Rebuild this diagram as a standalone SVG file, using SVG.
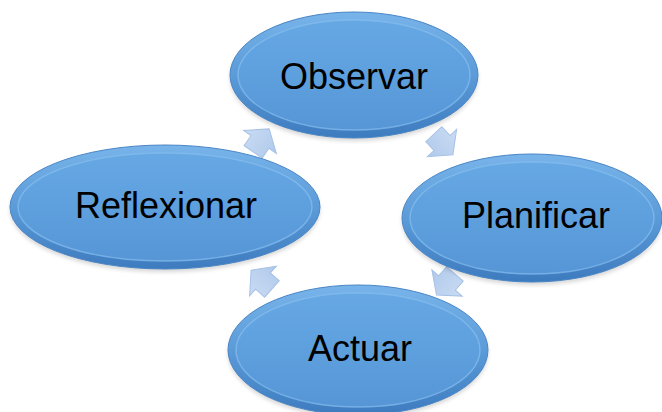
<svg xmlns="http://www.w3.org/2000/svg" width="662" height="412" viewBox="0 0 662 412">
<defs>
<linearGradient id="outerG" x1="0" y1="0" x2="0" y2="1">
<stop offset="0" stop-color="#78b4ea"/>
<stop offset="0.5" stop-color="#5b9bd8"/>
<stop offset="1" stop-color="#3d7bbf"/>
</linearGradient>
<linearGradient id="innerG" x1="0" y1="0" x2="0" y2="1">
<stop offset="0" stop-color="#66a8e4"/>
<stop offset="1" stop-color="#5696d7"/>
</linearGradient>
<linearGradient id="arrowG" x1="0" y1="0" x2="0" y2="1">
<stop offset="0" stop-color="#cadcf3"/>
<stop offset="1" stop-color="#b0c9eb"/>
</linearGradient>
<filter id="sh" x="-10%" y="-10%" width="120%" height="130%">
<feGaussianBlur stdDeviation="2"/>
</filter>
<path id="arr" d="M -12,-11 L 0,-11 L 0,-20 L 16,0 L 0,20 L 0,11 L -12,11 Z"/>
</defs>
<style>
.shadow{fill:#000;opacity:0.16;filter:url(#sh)}
.outer{fill:url(#outerG);stroke:#4a86c6;stroke-width:1}
.inner{fill:url(#innerG);stroke:#86bdee;stroke-width:1.5;stroke-opacity:0.7}
.lbl{font-family:"Liberation Sans",Arial,sans-serif;font-size:36px;fill:#000;text-anchor:middle}
.arrow{fill:url(#arrowG);stroke:#a6c1e5;stroke-width:1;stroke-linejoin:miter}
</style>
<rect width="662" height="412" fill="#fff"/>
<g id="connectors">
<use href="#arr" class="arrow" transform="translate(442,143) rotate(47)"/>
<use href="#arr" class="arrow" transform="translate(447,283) rotate(131)"/>
<use href="#arr" class="arrow" transform="translate(263,281) rotate(-138)"/>
<use href="#arr" class="arrow" transform="translate(260,142) rotate(-55)"/>
</g>
<g id="observar">
<ellipse class="shadow" cx="354" cy="78" rx="124" ry="63"/>
<ellipse class="outer" cx="354" cy="75" rx="124" ry="63"/>
<ellipse class="inner" cx="354" cy="75" rx="116" ry="55"/>
<text class="lbl" x="354" y="89">Observar</text>
</g>
<g id="planificar">
<ellipse class="shadow" cx="532" cy="221" rx="130" ry="64"/>
<ellipse class="outer" cx="532" cy="218" rx="130" ry="64"/>
<ellipse class="inner" cx="532" cy="218" rx="122" ry="56"/>
<text class="lbl" x="536" y="228">Planificar</text>
</g>
<g id="actuar">
<ellipse class="shadow" cx="358" cy="353" rx="130" ry="65"/>
<ellipse class="outer" cx="358" cy="350" rx="130" ry="65"/>
<ellipse class="inner" cx="358" cy="350" rx="122" ry="57"/>
<text class="lbl" x="360" y="361">Actuar</text>
</g>
<g id="reflexionar">
<ellipse class="shadow" cx="165" cy="210" rx="155" ry="62"/>
<ellipse class="outer" cx="165" cy="207" rx="155" ry="62"/>
<ellipse class="inner" cx="165" cy="207" rx="147" ry="54"/>
<text class="lbl" x="166" y="218">Reflexionar</text>
</g>
</svg>
